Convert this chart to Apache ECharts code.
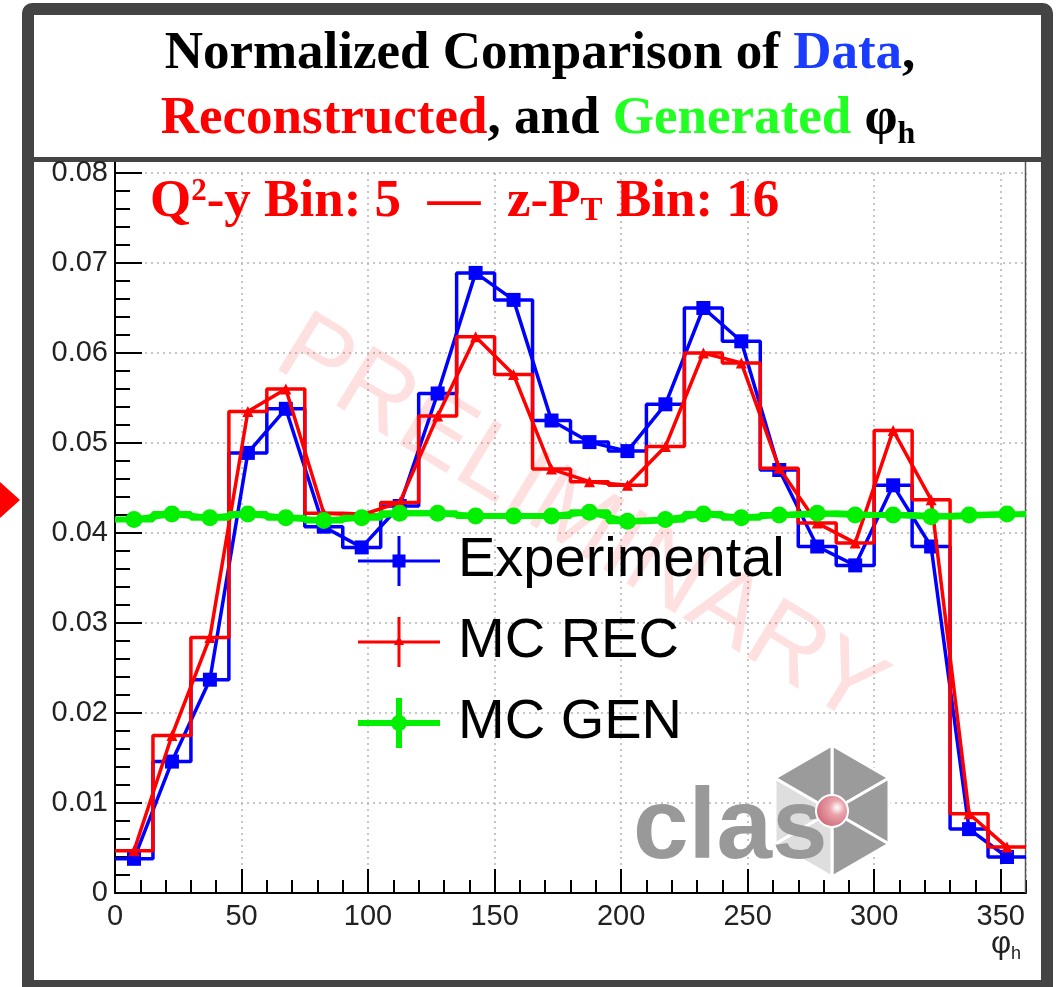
<!DOCTYPE html>
<html><head><meta charset="utf-8">
<script src="https://cdn.jsdelivr.net/npm/echarts@6/dist/echarts.min.js"></script>
<style>html,body{margin:0;padding:0;background:#fff}#c{width:1058px;height:987px}</style>
</head><body><div id="c"></div>
<script>
// ---- data ----
const binEdges = [0,15,30,45,60,75,90,105,120,135,150,165,180,195,210,225,240,255,270,285,300,315,330,345,360];
const binCenters = [7.5,22.5,37.5,52.5,67.5,82.5,97.5,112.5,127.5,142.5,157.5,172.5,187.5,202.5,217.5,232.5,247.5,262.5,277.5,292.5,307.5,322.5,337.5,352.5];
const experimental = [0.0038,0.0146,0.0237,0.0489,0.0538,0.0407,0.0384,0.0430,0.0555,0.0689,0.0659,0.0525,0.0501,0.0491,0.0543,0.0650,0.0613,0.0470,0.0385,0.0364,0.0453,0.0385,0.0071,0.0040];
const mcRec = [0.0047,0.0175,0.0284,0.0535,0.0560,0.0422,0.0420,0.0434,0.0530,0.0618,0.0576,0.0471,0.0457,0.0453,0.0496,0.0600,0.0589,0.0472,0.0411,0.0389,0.0514,0.0437,0.0088,0.0051];
const mcGen = [0.0415,0.0421,0.0417,0.0421,0.0417,0.0414,0.0417,0.0422,0.0422,0.0419,0.0419,0.0419,0.0423,0.0413,0.0415,0.0421,0.0417,0.0420,0.0422,0.0420,0.0420,0.0418,0.0420,0.0421];
const seriesNames = ['Experimental','MC REC','MC GEN'];

function stepData(vals){ const d=[]; vals.forEach((v,i)=>{ d.push([binEdges[i],v]); d.push([binEdges[i+1],v]); }); return d; }
function pointData(vals){ return vals.map((v,i)=>[binCenters[i],v]); }

const BLUE='#0000ff', RED='#ff0000', GREEN='#00f000';
const SERIF='"Liberation Serif","Times New Roman",serif';
const SANS='"Liberation Sans",Arial,sans-serif';

const chart = echarts.init(document.getElementById('c'), null, {renderer:'canvas'});
const gridLine = {show:true, lineStyle:{type:[2,4], color:'#b4b4b4', width:1.5}};

const option = {
  animation:false,
  backgroundColor:'#fff',
  grid:{left:115, right:32, top:173, bottom:94, containLabel:false},
  xAxis:[
    {type:'value', min:0, max:360, interval:50,
     axisLine:{show:true, onZero:false, lineStyle:{color:'#000', width:2}},
     axisTick:{show:true, inside:true, length:24, lineStyle:{color:'#000', width:2}},
     axisLabel:{show:true, showMaxLabel:false, fontSize:29, color:'#222', fontFamily:SANS, margin:9},
     splitLine:gridLine},
    {type:'value', min:0, max:360, interval:10, position:'bottom',
     axisLine:{show:false}, axisLabel:{show:false}, splitLine:{show:false},
     axisTick:{show:true, inside:true, length:13, lineStyle:{color:'#000', width:2}}}
  ],
  yAxis:{type:'value', min:0, max:0.08, interval:0.01,
     axisLine:{show:true, onZero:false, lineStyle:{color:'#000', width:2}},
     axisTick:{show:true, inside:true, length:27, lineStyle:{color:'#000', width:2}},
     minorTick:{show:true, splitNumber:5, length:15, lineStyle:{color:'#000', width:2}},
     axisLabel:{fontSize:29, color:'#222', fontFamily:SANS, margin:7,
       formatter:v=> v===0 ? '0' : v.toFixed(2)},
     splitLine:gridLine},
  legend:{orient:'vertical', left:358, top:533, itemWidth:82, itemHeight:50, itemGap:25,
    selectedMode:false, padding:0,
    textStyle:{fontSize:56, fontFamily:SANS, color:'#000', padding:[0,0,0,13], lineHeight:54},
    data:[
      {name:seriesNames[0], icon:'path://M0,23.5H82V26.5H0Z M39.5,0H42.5V50H39.5Z M34.5,18.5H47.5V31.5H34.5Z'},
      {name:seriesNames[1], icon:'path://M0,23.5H82V26.5H0Z M39.5,0H42.5V50H39.5Z M41,19L46,28L36,28Z'},
      {name:seriesNames[2], icon:'path://M0,22H82V28H0Z M38,0H44V50H38Z M33,25A8,8 0 1,1 49,25A8,8 0 1,1 33,25Z'}
    ]},
  series:[
    {name:'exp-hist', type:'line', data:stepData(experimental), symbol:'none', silent:true, z:3,
     lineStyle:{color:BLUE, width:3.5}},
    {name:seriesNames[0], type:'line', data:pointData(experimental), symbol:'rect', symbolSize:14, z:4,
     color:BLUE, itemStyle:{color:BLUE}, lineStyle:{color:BLUE, width:3.5}},
    {name:'rec-hist', type:'line', data:stepData(mcRec), symbol:'none', silent:true, z:5,
     lineStyle:{color:RED, width:3.5}},
    {name:seriesNames[1], type:'line', data:pointData(mcRec), symbol:'triangle', symbolSize:11, z:6,
     color:RED, itemStyle:{color:RED}, lineStyle:{color:RED, width:3.5}},
    {name:'gen-hist', type:'line', data:stepData(mcGen), symbol:'none', silent:true, z:7,
     lineStyle:{color:GREEN, width:6}},
    {name:seriesNames[2], type:'line', data:pointData(mcGen), symbol:'circle', symbolSize:17, z:8,
     color:GREEN, itemStyle:{color:GREEN}, lineStyle:{color:GREEN, width:6}}
  ],
  graphic:[
    // outer frame
    {type:'rect', z:-30, silent:true, shape:{x:22, y:3, width:1031, height:990, r:[10,10,0,0]}, style:{fill:'#444'}},
    {type:'rect', z:-29, silent:true, shape:{x:34, y:15, width:1007, height:142}, style:{fill:'#fff'}},
    {type:'rect', z:-29, silent:true, shape:{x:34, y:162, width:1007, height:818}, style:{fill:'#fff'}},
    // red arrow at left
    {type:'polygon', z:20, silent:true, shape:{points:[[0,482],[20,500],[0,518]]}, style:{fill:'#ff0000'}},
    // plot frame bits
    {type:'line', z:1, silent:true, shape:{x1:1025.5, y1:162, x2:1025.5, y2:893}, style:{stroke:'#555', lineWidth:1.5}},
    {type:'line', z:1, silent:true, shape:{x1:115, y1:162, x2:115, y2:174}, style:{stroke:'#000', lineWidth:2}},
    // watermark
    {type:'text', z:1, silent:true, x:580, y:522, rotation:-0.55,
     style:{text:'PRELIMINARY', fontSize:102, fontFamily:SANS, fill:'rgba(255,0,0,0.12)', align:'center', verticalAlign:'middle'}},
    // title
    {type:'text', z:20, silent:true, x:540, y:54,
     style:{text:'{k|Normalized Comparison of }{b|Data}{k|,}', align:'center', verticalAlign:'middle',
       rich:{k:{fontSize:53, fontWeight:'bold', fontFamily:SERIF, fill:'#000'},
             b:{fontSize:53, fontWeight:'bold', fontFamily:SERIF, fill:'#1a3cff'}}}},
    {type:'text', z:20, silent:true, x:538, y:119,
     style:{text:'{r|Reconstructed}{k|, and }{g|Generated }{k|φ}{s|h}', align:'center', verticalAlign:'middle',
       rich:{k:{fontSize:53, lineHeight:64, fontWeight:'bold', fontFamily:SERIF, fill:'#000'},
             r:{fontSize:53, lineHeight:64, fontWeight:'bold', fontFamily:SERIF, fill:'#ff0000'},
             g:{fontSize:53, lineHeight:64, fontWeight:'bold', fontFamily:SERIF, fill:'#22ff22'},
             s:{fontSize:32, lineHeight:32, fontWeight:'bold', fontFamily:SERIF, fill:'#000', verticalAlign:'bottom'}}}},
    // bin label
    {type:'text', z:20, silent:true, x:150, y:202,
     style:{text:'{a|Q}{sup|2}{a|-y Bin: 5  —  z-P}{sub|T}{a| Bin: 16}', align:'left', verticalAlign:'middle',
       rich:{a:{fontSize:53, lineHeight:52, fontWeight:'bold', fontFamily:SERIF, fill:'#ff0000'},
             sup:{fontSize:31, lineHeight:31, fontWeight:'bold', fontFamily:SERIF, fill:'#ff0000', verticalAlign:'top'},
             sub:{fontSize:33, lineHeight:31, fontWeight:'bold', fontFamily:SERIF, fill:'#ff0000', verticalAlign:'bottom'}}}},
    // x axis title
    {type:'text', z:20, silent:true, x:1006, y:944,
     style:{text:'{p|φ}{h|h}', align:'center', verticalAlign:'middle',
       rich:{p:{fontSize:31, lineHeight:38, fontFamily:SANS, fill:'#222'},
             h:{fontSize:18, lineHeight:18, fontFamily:SANS, fill:'#222', verticalAlign:'bottom'}}}},
    // CLAS logo
    {type:'polygon', z:1, silent:true, shape:{points:[[832,811],[832,745],[889,778]]}, style:{fill:'#9b9b9b', stroke:'#fff', lineWidth:3}},
    {type:'polygon', z:1, silent:true, shape:{points:[[832,811],[889,778],[889,844]]}, style:{fill:'#9b9b9b', stroke:'#fff', lineWidth:3}},
    {type:'polygon', z:1, silent:true, shape:{points:[[832,811],[889,844],[832,877]]}, style:{fill:'#9b9b9b', stroke:'#fff', lineWidth:3}},
    {type:'polygon', z:1, silent:true, shape:{points:[[832,811],[832,877],[775,844]]}, style:{fill:'#dedede', stroke:'#fff', lineWidth:3}},
    {type:'polygon', z:1, silent:true, shape:{points:[[832,811],[775,844],[775,778]]}, style:{fill:'#dedede', stroke:'#fff', lineWidth:3}},
    {type:'polygon', z:1, silent:true, shape:{points:[[832,811],[775,778],[832,745]]}, style:{fill:'#9b9b9b', stroke:'#fff', lineWidth:3}},
    {type:'text', z:1, silent:true, x:633, y:830,
     style:{text:'clas', fontSize:100, fontWeight:'bold', fontFamily:SANS, fill:'#999', align:'left', verticalAlign:'middle'}},
    {type:'circle', z:1, silent:true, shape:{cx:832, cy:811, r:16},
     style:{fill:{type:'radial', x:0.65, y:0.4, r:0.75, colorStops:[{offset:0,color:'#ffffff'},{offset:0.3,color:'#e9a3ab'},{offset:1,color:'#c85a6a'}]}, stroke:'#fff', lineWidth:2}}
  ]
};
chart.setOption(option);
</script>
</body></html>
